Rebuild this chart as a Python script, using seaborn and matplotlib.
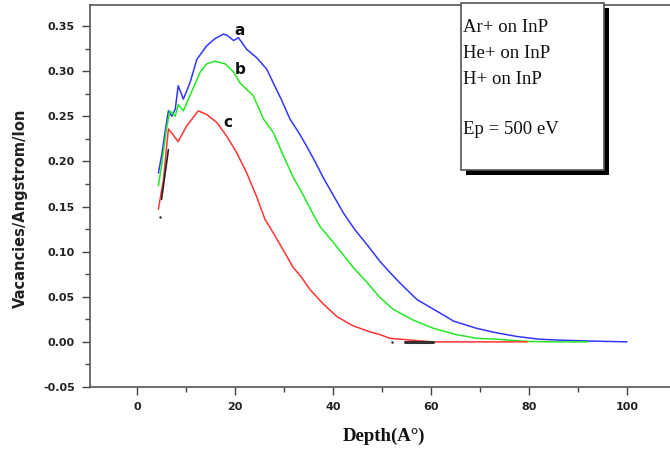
import matplotlib
matplotlib.use("Agg")
import matplotlib.pyplot as plt
import seaborn as sns
import pandas as pd
from matplotlib.ticker import MultipleLocator

# ---- data ----
x_a = [4.35, 5.0, 5.7, 6.4, 7.1, 7.8, 8.4, 9.45, 10.8, 12.2, 14.2, 15.9, 17.6, 18.3,
       19.7, 20.7, 22.4, 24.4, 26.5, 27.8, 29.5, 31.2, 33.0, 34.6, 36.5, 38.0, 40.0,
       42.1, 44.5, 46.9, 49.6, 51.6, 53.7, 57.1, 61.2, 64.6, 69.3, 73.4, 77.5, 82.0,
       86.0, 92.0, 96.0, 100.0]
y_a = [0.187, 0.206, 0.232, 0.256, 0.250, 0.258, 0.284, 0.269, 0.287, 0.313, 0.328,
       0.336, 0.341, 0.340, 0.334, 0.337, 0.324, 0.315, 0.302, 0.287, 0.268, 0.247,
       0.232, 0.217, 0.198, 0.182, 0.163, 0.143, 0.124, 0.108, 0.089, 0.077, 0.065,
       0.047, 0.034, 0.023, 0.015, 0.010, 0.006, 0.003, 0.002, 0.001, 0.0005, 0.0]

x_b = [4.35, 5.0, 6.0, 6.7, 7.8, 8.4, 9.45, 10.8, 12.9, 14.2, 15.9, 18.0, 19.7, 21.0,
       23.7, 25.8, 27.8, 29.9, 31.9, 33.3, 35.3, 37.3, 40.1, 42.0, 44.2, 46.9, 49.6,
       52.3, 56.4, 60.5, 65.2, 69.3, 73.4, 77.0, 79.6, 85.0, 92.0]
y_b = [0.173, 0.195, 0.236, 0.256, 0.250, 0.263, 0.256, 0.273, 0.299, 0.308, 0.311,
       0.308, 0.299, 0.287, 0.273, 0.247, 0.232, 0.206, 0.182, 0.169, 0.148, 0.128,
       0.110, 0.097, 0.082, 0.066, 0.049, 0.036, 0.024, 0.015, 0.008, 0.004, 0.003,
       0.0015, 0.0005, 0.0, 0.0]

x_c = [4.35, 5.4, 6.05, 6.4, 8.4, 10.1, 12.5, 14.2, 16.3, 18.3, 20.3, 22.4, 24.4,
       26.1, 27.0, 29.5, 31.8, 33.5, 35.3, 38.0, 40.8, 44.0, 47.6, 49.6, 51.6, 53.7,
       55.7, 60.4, 70.0, 79.6]
y_c = [0.147, 0.180, 0.217, 0.236, 0.222, 0.239, 0.256, 0.252, 0.243, 0.228, 0.210,
       0.187, 0.161, 0.136, 0.128, 0.105, 0.083, 0.072, 0.058, 0.042, 0.028, 0.018,
       0.011, 0.008, 0.004, 0.003, 0.002, 0.0, 0.0, 0.0]

x_k1 = [5.0, 6.4]
y_k1 = [0.158, 0.213]
x_k2 = [54.7, 60.4]
y_k2 = [0.0, 0.0]
x_dots = [4.7, 52.0]
y_dots = [0.138, 0.0]

curve_labels = ["a", "b", "c"]
label_x = [21.0, 21.0, 18.6]
label_y = [0.345, 0.302, 0.243]
legend_lines = ["Ar+ on InP", "He+ on InP", "H+ on InP", "", "Ep = 500 eV"]

# ---- figure ----
sns.set_theme(style="white")
plt.rcParams["font.family"] = ["DejaVu Sans"]

fig = plt.figure(figsize=(6.70, 4.49), dpi=100)
ax = fig.add_axes([90 / 670, (449 - 387) / 449, (677 - 90) / 670, (387 - 5) / 449])

df = pd.concat([
    pd.DataFrame({"x": x_a, "y": y_a, "s": "a"}),
    pd.DataFrame({"x": x_b, "y": y_b, "s": "b"}),
    pd.DataFrame({"x": x_c, "y": y_c, "s": "c"}),
])
pal = {"a": "#3535ff", "b": "#25e825", "c": "#ff3535"}
sns.lineplot(data=df, x="x", y="y", hue="s", palette=pal, estimator=None,
             sort=False, linewidth=1.1, legend=False, ax=ax)
sns.lineplot(x=x_k1, y=y_k1, color="#222222", linewidth=1.2, ax=ax, estimator=None)
sns.lineplot(x=x_k2, y=y_k2, color="#333333", linewidth=2.2, ax=ax, estimator=None)
sns.scatterplot(x=x_dots, y=y_dots, color="#222222", s=3, linewidth=0, ax=ax)

for t, xx, yy in zip(curve_labels, label_x, label_y):
    ax.text(xx, yy, t, fontsize=11, fontweight="bold", color="#111111",
            ha="center", va="center", family="DejaVu Sans")

ax.set_xlim(-9.6, 110.2)
ax.set_ylim(-0.05, 0.3733)
ax.xaxis.set_minor_locator(MultipleLocator(10))
ax.yaxis.set_minor_locator(MultipleLocator(0.025))
yt = [-0.05, 0, 0.05, 0.1, 0.15, 0.2, 0.25, 0.3, 0.35]
ax.set_yticks(yt)
ax.set_yticklabels([f"{v:.2f}" for v in yt])
xt = [0, 20, 40, 60, 80, 100]
ax.set_xticks(xt)
ax.set_xticklabels([str(v) for v in xt])

ax.tick_params(which="major", direction="out", length=6, width=1.0, color="#444444",
               labelsize=8, pad=5, bottom=True, left=True, top=False, right=False)
ax.tick_params(which="minor", direction="out", length=3.5, width=1.0, color="#444444",
               bottom=True, left=True, top=False, right=False)
for lab in ax.get_xticklabels() + ax.get_yticklabels():
    lab.set_fontweight("bold")
    lab.set_color("#222222")

for side in ["left", "bottom", "top"]:
    ax.spines[side].set_visible(True)
    ax.spines[side].set_color("#555555")
    ax.spines[side].set_linewidth(1.2)
ax.spines["right"].set_visible(False)

ax.set_xlabel("Depth(A°)", fontsize=13.5, fontweight="bold", family="Liberation Serif",
              color="#111111")
ax.set_ylabel("Vacancies/Angstrom/Ion", fontsize=10.5, fontweight="bold",
              color="#222222")
ax.xaxis.set_label_coords((384 - 90) / (677 - 90), -(436 - 387) / 382)
ax.yaxis.set_label_coords(-(90 - 20) / 587, (387 - 208) / 382)
ax.xaxis.label.set_va("center")
ax.yaxis.label.set_va("center")

# text box with drop shadow (figure pixels)
W, H = 670, 449
bx0, by0, bx1, by1 = 461, 3, 604, 170
shadow = plt.Rectangle(((bx0 + 5) / W, 1 - (by1 + 5) / H), (bx1 - bx0) / W, (by1 - by0) / H,
                       transform=fig.transFigure, facecolor="black", edgecolor="none", zorder=5)
box = plt.Rectangle((bx0 / W, 1 - by1 / H), (bx1 - bx0) / W, (by1 - by0) / H,
                    transform=fig.transFigure, facecolor="white", edgecolor="#555555",
                    linewidth=1.2, zorder=6)
fig.add_artist(shadow)
fig.add_artist(box)
line_y = [28, 53, 79, 104, 130]
for t, yy in zip(legend_lines, line_y):
    if t:
        fig.text(463 / W, 1 - yy / H, t, fontsize=13.5, family="Liberation Serif",
                 color="#111111", ha="left", va="center", zorder=7)

fig.savefig("out.png", dpi=100)
